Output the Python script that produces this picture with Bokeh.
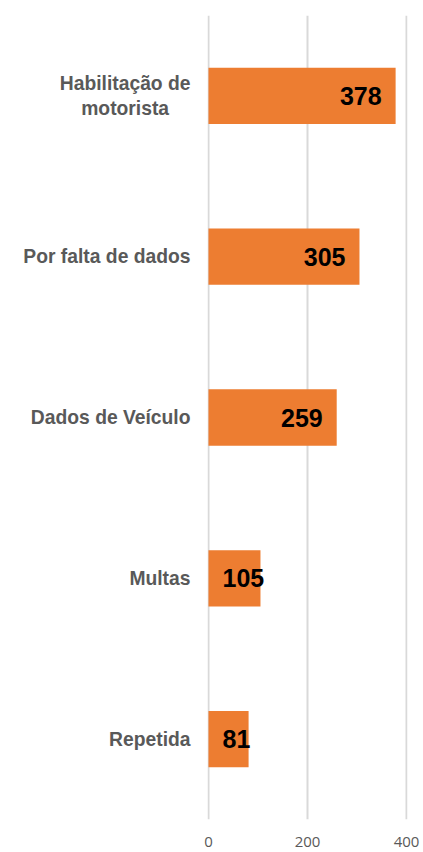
from bokeh.plotting import figure
from bokeh.models import ColumnDataSource, FactorRange, Range1d, FixedTicker
from bokeh.core.properties import value
from bokeh.embed import file_html
from bokeh.resources import INLINE

NBSP = "\u00a0"
# second line padded so that the two lines appear centred under each other
categories = ["Habilitação de\nmotorista" + NBSP * 4, "Por falta de dados", "Dados de Veículo", "Multas", "Repetida"]
counts = [378, 305, 259, 105, 81]
x_ticks = [0, 200, 400]

big = [c > 200 for c in counts]
src = ColumnDataSource(dict(
    cat=categories,
    n=counts,
    lbl=[str(c) for c in counts],
    tx=[c if b else 0 for c, b in zip(counts, big)],
    align=["right" if b else "left" for b in big],
    xoff=[-14 if b else 14 for b in big],
))

p = figure(width=423, height=852, output_backend="svg", toolbar_location=None,
           y_range=FactorRange(*categories[::-1], range_padding=0),
           x_range=Range1d(-2, 402),
           min_border_left=207, min_border_right=16, min_border_top=15, min_border_bottom=33)
p.outline_line_color = None
p.background_fill_color = "white"
p.border_fill_color = "white"

p.hbar(y="cat", right="n", left=0, height=0.35, source=src, color="#ED7D31", line_color=None)
p.text(x="tx", y="cat", text="lbl", source=src, text_align="align", x_offset="xoff",
       text_baseline="middle", text_font=value("Liberation Sans"), text_font_style="bold",
       text_font_size="25px", text_color="black")

p.ygrid.grid_line_color = None
p.xgrid.grid_line_color = "#d9d9d9"
p.xgrid.grid_line_width = 2
p.xaxis.ticker = FixedTicker(ticks=x_ticks)
p.xaxis.axis_line_color = None
p.xaxis.major_tick_line_color = None
p.xaxis.minor_tick_line_color = None
p.xaxis.major_label_text_font = "Open Sans"
p.xaxis.major_label_text_font_size = "15px"
p.xaxis.major_label_text_color = "#595959"
p.xaxis.major_label_standoff = 11

p.yaxis.axis_line_color = None
p.yaxis.major_tick_line_color = None
p.yaxis.minor_tick_line_color = None
p.yaxis.major_label_text_font = "Liberation Sans"
p.yaxis.major_label_text_font_style = "bold"
p.yaxis.major_label_text_font_size = "19.3px"
p.yaxis.major_label_text_color = "#595959"
p.yaxis.major_label_standoff = 11

open("out.html", "w").write(file_html(p, INLINE))
